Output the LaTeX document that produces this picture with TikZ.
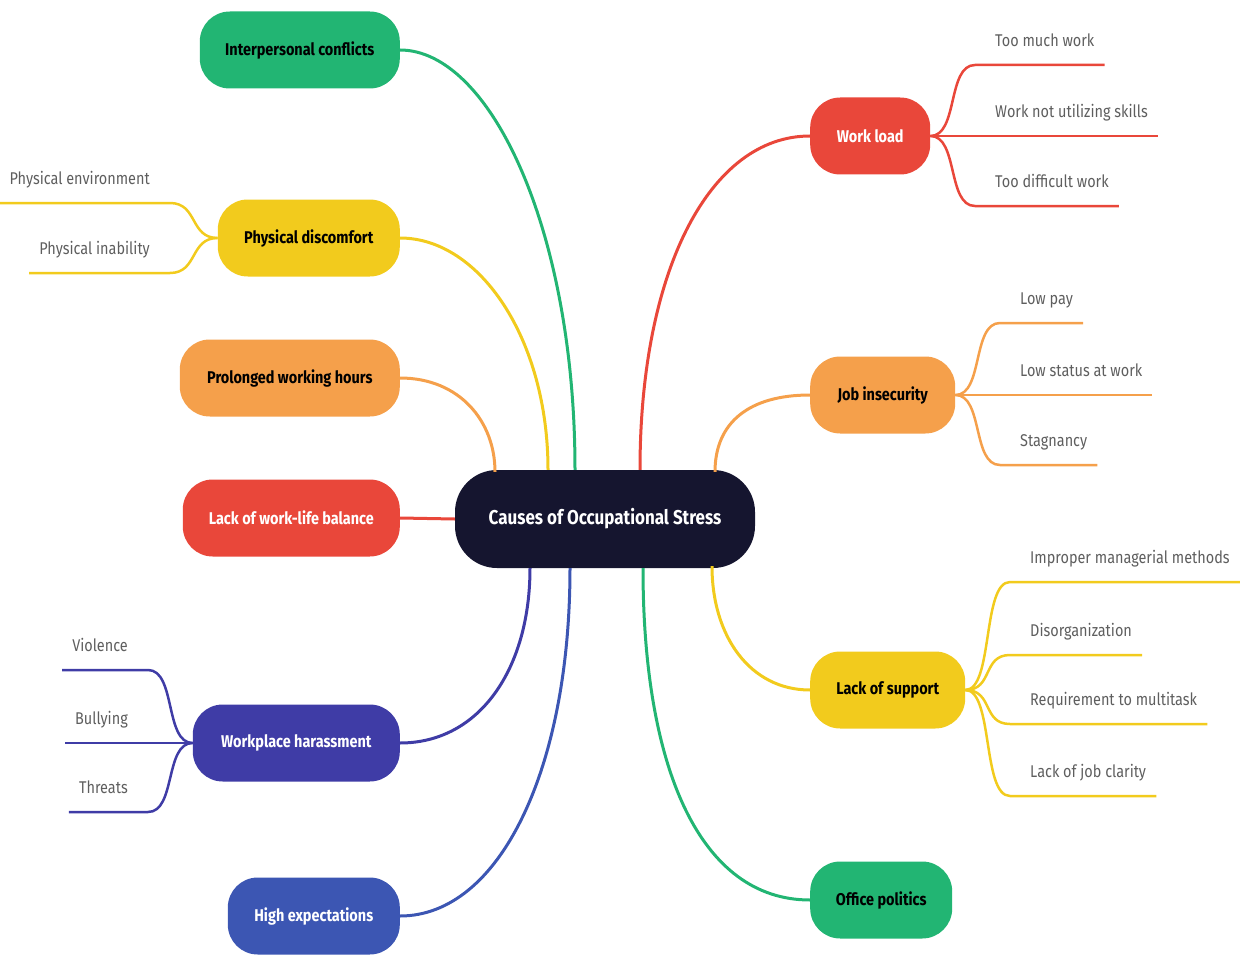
\documentclass[tikz,border=0pt]{standalone}
\usepackage{fontspec}
\setmainfont{Fira Sans}[FakeStretch=0.85]
\usetikzlibrary{calc}
\definecolor{navy}{HTML}{15152F}
\definecolor{cgreen}{HTML}{22B573}
\definecolor{cyellow}{HTML}{F2CB1D}
\definecolor{corange}{HTML}{F5A04B}
\definecolor{cred}{HTML}{E9473A}
\definecolor{cindigo}{HTML}{3F3CA6}
\definecolor{cblue}{HTML}{3C56B3}
\definecolor{leafgray}{HTML}{5E5E5E}

\begin{document}
\begin{tikzpicture}[x=1pt,y=-1pt,
  br/.style={fill=#1,rounded corners=30pt,minimum height=77pt,inner xsep=0pt,
    font=\bfseries\fontsize{17}{20}\selectfont},
  lfr/.style={anchor=south west,inner xsep=10pt,inner ysep=18pt,text depth=0pt,
    text=leafgray,font=\fontsize{17}{20}\selectfont},
  lfl/.style={lfr,anchor=south east},
  ln/.style={draw=#1,line width=3pt}]
\useasboundingbox (0,0) rectangle (1240,955);

% centre
\node[fill=navy,text=white,rounded corners=42pt,minimum width=300pt,minimum height=98pt,
  font=\bfseries\fontsize{20}{24}\selectfont] (c) at (605,519) {Causes of Occupational Stress};

% left branches
\node[br=cgreen,minimum width=200pt,anchor=east] (ic) at (400,50) {Interpersonal conflicts};
\node[br=cyellow,minimum width=182pt,anchor=east] (pd) at (400,238) {Physical discomfort};
\node[br=corange,minimum width=220pt,anchor=east] (pw) at (400,378) {Prolonged working hours};
\node[br=cred,text=white,minimum width=217pt,anchor=east] (wb) at (400,518) {Lack of work-life balance};
\node[br=cindigo,text=white,minimum width=207pt,anchor=east] (wh) at (400,743) {Workplace harassment};
\node[br=cblue,text=white,minimum width=172pt,anchor=east] (he) at (400,916) {High expectations};

% right branches
\node[br=cred,text=white,minimum width=120pt,anchor=west] (wl) at (810,136) {Work load};
\node[br=corange,minimum width=145pt,anchor=west] (ji) at (810,395) {Job insecurity};
\node[br=cyellow,minimum width=155pt,anchor=west] (ls) at (810,690) {Lack of support};
\node[br=cgreen,minimum width=142pt,anchor=west] (op) at (810,900) {Office politics};

\draw[ln=cgreen] (ic.east) .. controls +(90,0) and +(0,-240) .. ($(c.north)+(-30,0)$);
\draw[ln=cyellow] (pd.east) .. controls +(80,0) and +(0,-130) .. ($(c.north)+(-57,0)$);
\draw[ln=corange] (pw.east) .. controls +(60,0) and +(0,-50) .. ($(c.north)+(-110,2)$);
\draw[ln=cred] (wb.east) -- (c.west);
\draw[ln=cindigo] (wh.east) .. controls +(80,0) and +(0,100) .. ($(c.south)+(-75,0)$);
\draw[ln=cblue] (he.east) .. controls +(100,0) and +(0,200) .. ($(c.south)+(-35,0)$);
\draw[ln=cred] ($(c.north)+(35,0)$) .. controls +(0,-200) and +(-100,0) .. (wl.west);
\draw[ln=corange] ($(c.north)+(110,2)$) .. controls +(0,-50) and +(-60,0) .. (ji.west);
\draw[ln=cyellow] ($(c.south)+(107,-2)$) .. controls +(0,70) and +(-60,0) .. (ls.west);
\draw[ln=cgreen] ($(c.south)+(38,0)$) .. controls +(0,200) and +(-110,0) .. (op.west);

% leaves
\node[lfr] (wl1) at (985,65) {Too much work};
\node[lfr] (wl2) at (985,136) {Work not utilizing skills};
\node[lfr] (wl3) at (985,206) {Too difficult work};
\node[lfr] (ji1) at (1010,323) {Low pay};
\node[lfr] (ji2) at (1010,395) {Low status at work};
\node[lfr] (ji3) at (1010,465) {Stagnancy};
\node[lfr] (ls1) at (1020,582) {Improper managerial methods};
\node[lfr] (ls2) at (1020,655) {Disorganization};
\node[lfr] (ls3) at (1020,724) {Requirement to multitask};
\node[lfr] (ls4) at (1020,796) {Lack of job clarity};
\node[lfl] (pd1) at (160,203) {Physical environment};
\node[lfl] (pd2) at (160,273) {Physical inability};
\node[lfl] (wh1) at (138,670) {Violence};
\node[lfl] (wh2) at (138,743) {Bullying};
\node[lfl] (wh3) at (138,812) {Threats};

\foreach \p/\l/\col in {wl/wl1/cred,wl/wl2/cred,wl/wl3/cred,ji/ji1/corange,ji/ji2/corange,ji/ji3/corange,
    ls/ls1/cyellow,ls/ls2/cyellow,ls/ls3/cyellow,ls/ls4/cyellow}
  \draw[ln=\col,line width=2.5pt] (\p.east) .. controls +(28,0) and +(-28,0) .. ([xshift=-10pt]\l.south west) -- (\l.south east);
\foreach \p/\l/\col in {pd/pd1/cyellow,pd/pd2/cyellow,wh/wh1/cindigo,wh/wh2/cindigo,wh/wh3/cindigo}
  \draw[ln=\col,line width=2.5pt] (\p.west) .. controls +(-28,0) and +(28,0) .. ([xshift=10pt]\l.south east) -- (\l.south west);
\end{tikzpicture}
\end{document}
